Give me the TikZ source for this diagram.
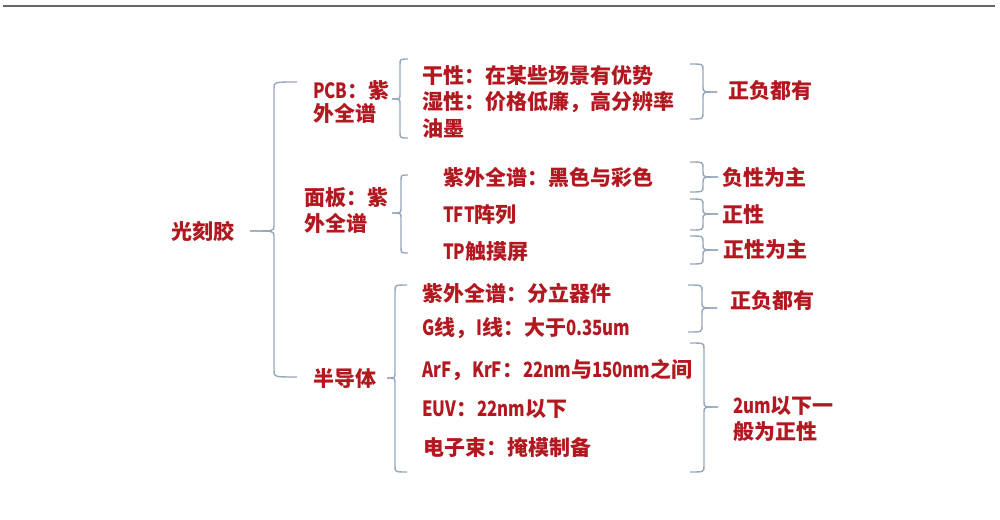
\documentclass[tikz,border=0pt]{standalone}
\usepackage{fontspec}
\setmainfont{Noto Sans CJK SC}
\newfontfamily\latnfont{Noto Sans CJK SC}[FakeStretch=0.8]
\newcommand{\ltn}[1]{{\latnfont\bfseries #1}}
\usepackage{xcolor}
\definecolor{txtred}{RGB}{178,24,32}
\definecolor{brkblue}{RGB}{150,168,190}
\tikzset{
	lbl/.style={anchor=west, inner sep=0pt, text=txtred, align=left,
		font=\fontsize{21}{26}\selectfont\bfseries},
	brk/.style={draw=brkblue, line width=1.4pt}
}

\begin{document}
\begin{tikzpicture}[x=1pt,y=-1pt]
\useasboundingbox (0,0) rectangle (1000,519);
\draw[gray!80!black, line width=2pt] (3,6) -- (995,6);

% left part
\node[lbl] (root) at (171,231) {光刻胶};
\node[lbl, font=\fontsize{21}{23}\selectfont\bfseries] (pcb) at (313,102.5) {\ltn{PCB}：紫\\外全谱};
\node[lbl] (panel) at (304,211) {面板：紫\\外全谱};
\node[lbl] (semi) at (313,379) {半导体};

% items
\node[lbl] (dry) at (422,76) {干性：在某些场景有优势};
\node[lbl] (wet) at (422,102) {湿性：价格低廉，高分辨率};
\node[lbl] (ink) at (422,128) {油墨};
\node[lbl] (color) at (443,177) {紫外全谱：黑色与彩色};
\node[lbl] (tft) at (443,215) {\ltn{TFT}阵列};
\node[lbl] (tp) at (443,252) {\ltn{TP}触摸屏};
\node[lbl] (disc) at (422,293) {紫外全谱：分立器件};
\node[lbl] (gline) at (422,328) {\ltn{G}线，\ltn{I}线：大于\ltn{0.35um}};
\node[lbl] (arf) at (422,370) {\ltn{ArF}，\ltn{KrF}：\ltn{22nm}与\ltn{150nm}之间};
\node[lbl] (euv) at (422,409) {\ltn{EUV}：\ltn{22nm}以下};
\node[lbl] (ebeam) at (423,447) {电子束：掩模制备};

% right labels
\node[lbl] (both1) at (728,91) {正负都有};
\node[lbl] (neg) at (722,177) {负性为主};
\node[lbl] (pos) at (722,215) {正性};
\node[lbl] (posm) at (723,249) {正性为主};
\node[lbl] (both2) at (730,301) {正负都有};
\node[lbl] (pos2) at (733,418.5) {\ltn{2um}以下一\\般为正性};

% left brackets: x/top/bottom/mid/tip/hook
\foreach \x/\t/\b/\m/\tp/\h in {274/82/377/231/250/297, 400/59/138/99/392/408,
	401/175/253/213/392/408, 395/285/472/378/387/407}{
	\draw[brk] (\h,\t) .. controls (\x,\t) .. (\x,\t+6) -- (\x,\m-5) .. controls (\x,\m) .. (\tp,\m);
	\draw[brk] (\h,\b) .. controls (\x,\b) .. (\x,\b-6) -- (\x,\m+5) .. controls (\x,\m) .. (\tp,\m);
	}
% right brackets
\foreach \x/\t/\b/\m/\tp/\h in {703/64/119/92/717/690, 703/162/192/177/718/690,
	703/199/230/214/718/690, 703/236/264/250/718/690,
	702/285/332/308/717/688, 704/343/472/407/718/690}{
	\draw[brk] (\h,\t) .. controls (\x,\t) .. (\x,\t+6) -- (\x,\m-5) .. controls (\x,\m) .. (\tp,\m);
	\draw[brk] (\h,\b) .. controls (\x,\b) .. (\x,\b-6) -- (\x,\m+5) .. controls (\x,\m) .. (\tp,\m);
	}
\end{tikzpicture}
\end{document}
